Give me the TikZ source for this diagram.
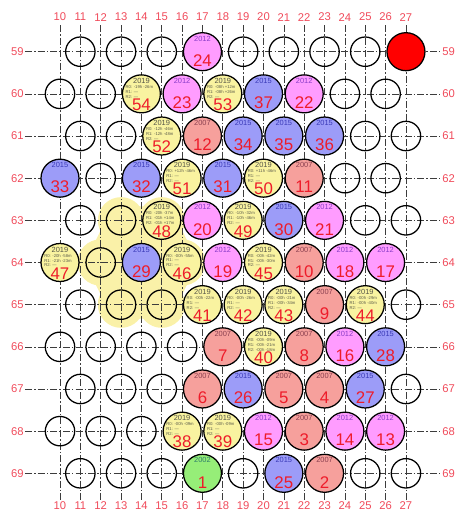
\documentclass[tikz,border=0pt]{standalone}
\usepackage{fontspec}
\setmainfont{Liberation Sans}
\usetikzlibrary{positioning}
\definecolor{gridGray}{HTML}{3C3C3C}
\definecolor{lblRed}  {HTML}{F04A5A}
\definecolor{numRed}  {HTML}{EE1C2A}
\definecolor{shiftInk}{HTML}{5A5A4A}
\definecolor{blobYel} {HTML}{FAF1A8}
\definecolor{sigRed}  {HTML}{FF0000}
\definecolor{f2012}{HTML}{FF9CFF}
\definecolor{f2015}{HTML}{9C9CF8}
\definecolor{f2007}{HTML}{F6A09C}
\definecolor{f2019}{HTML}{F9F3A0}
\definecolor{f2002}{HTML}{96EE78}
\definecolor{t2012}{HTML}{8A3CC8}
\definecolor{t2015}{HTML}{3A3AB8}
\definecolor{t2007}{HTML}{8B4050}
\definecolor{t2019}{HTML}{555548}
\definecolor{t2002}{HTML}{2E7D6B}

\begin{document}
\begin{tikzpicture}[x=0.50875cm,y=-1.054cm,
      grid/.style={draw=gridGray,line width=0.45pt,
                   dash pattern=on 5pt off 1.5pt on 1pt off 1.5pt},
      lbl/.style={text=lblRed,font=\fontsize{8}{9}\selectfont,inner sep=0pt},
      freehole/.style={circle,draw=black,line width=0.9pt,
                       minimum size=0.735cm,inner sep=0pt},
      hole/.style={circle,draw=black,line width=0.9pt,
                   minimum size=0.95cm,inner sep=0pt},
      yr/.style={font=\fontsize{5.3}{5.3}\selectfont,inner sep=0pt},
      num/.style={text=numRed,font=\fontsize{12}{12}\selectfont,inner sep=0pt},
      shiftln/.style={text=shiftInk,font=\fontsize{3}{3.4}\selectfont,
                      inner sep=0pt,anchor=west}]

    \useasboundingbox (-2.948,-1.226) rectangle (19.459,10.894);

    % shaded group of positions behind the lattice
    \fill[blobYel,draw=blobYel,line width=0.7cm,line join=round]
      (3,4) -- (5,4) -- (6,5) -- (5,6) -- (3,6) -- (2,5) -- cycle;
    \foreach \c/\r in {3/4,5/4,2/5,4/5,6/5,3/6,5/6}
      \fill[blobYel] (\c,\r) circle (0.58cm);

    % dash-dot lattice lines and their numbers
    \foreach \c [evaluate=\c as \cn using int(\c+10)] in {0,...,17} {
      \draw[grid] (\c,-0.63) -- (\c,10.63);
      \node[lbl] (top\cn) at (\c,-0.82) {\cn};
      \node[lbl] (bot\cn) at (\c,10.76) {\cn};
    }
    \foreach \r [evaluate=\r as \rn using int(\r+59)] in {0,...,10} {
      \draw[grid] (-1.72,\r) -- (18.67,\r);
      \node[lbl] (left\rn)  at (-2.1,\r) {\rn};
      \node[lbl] (right\rn) at (19.1,\r) {\rn};
    }

    % empty positions
    \foreach \c/\r in {11/59,13/59,15/59,19/59,21/59,23/59,25/59,
                       10/60,12/60,24/60,26/60,
                       11/61,13/61,25/61,27/61,
                       12/62,24/62,26/62,
                       11/63,13/63,25/63,27/63,
                       12/64,
                       11/65,13/65,15/65,27/65,
                       10/66,12/66,14/66,16/66,
                       11/67,13/67,15/67,27/67,
                       10/68,12/68,14/68,
                       11/69,13/69,15/69,19/69,25/69,27/69}
      \node[freehole] (free-\c-\r) at (\c-10,\r-59) {};

    \node[hole,fill=sigRed] (sig) at (17,0) {};

    % filled positions: number / column / row / year
    \foreach \n/\c/\r/\y in {24/17/59/2012,23/16/60/2012,22/22/60/2012,
                             20/17/63/2012,21/23/63/2012,19/18/64/2012,
                             18/24/64/2012,17/26/64/2012,16/24/66/2012,
                             15/20/68/2012,14/24/68/2012,13/26/68/2012,
                             37/20/60/2015,34/19/61/2015,35/21/61/2015,
                             36/23/61/2015,33/10/62/2015,32/14/62/2015,
                             31/18/62/2015,30/21/63/2015,29/14/64/2015,
                             28/26/66/2015,26/19/67/2015,27/25/67/2015,
                             25/21/69/2015,
                             12/17/61/2007,11/22/62/2007,10/22/64/2007,
                             9/23/65/2007,7/18/66/2007,8/22/66/2007,
                             6/17/67/2007,5/21/67/2007,4/23/67/2007,
                             3/22/68/2007,2/23/69/2007,
                             1/17/69/2002} {
      \node[hole,fill=f\y] (h\n) at (\c-10,\r-59) {};
      \node[yr,text=t\y] (y\n) at ([yshift=3.25mm]h\n.center) {\y};
      \node[num] (n\n) at ([yshift=-2.25mm]h\n.center) {\n};
    }

    % 2019 positions carry three offset lines
    \foreach \n/\c/\r/\a/\b/\d in {
        54/14/60/-19h -26m/---/---,
        53/18/60/-08h +12m/-08h +26m/---,
        52/15/61/-12h -46m/-12h -48m/---,
        51/16/62/+12h -46m/---/---,
        50/20/62/+11h -46m/---/---,
        48/15/63/-20h -37m/-01h +14m/-01h +17m,
        49/19/63/-10h -32m/-10h -46m/---,
        47/10/64/-20h -58m/-21h -23m/---,
        46/16/64/-00h -55m/---/---,
        45/20/64/-00h -42m/-00h -30m/---,
        41/17/65/-00h -22m/---/---,
        42/19/65/-00h -26m/---/---,
        43/21/65/-00h -21m/-00h -34m/---,
        44/25/65/-00h -29m/-00h -40m/---,
        40/20/66/-00h -09m/-00h -21m/-00h -18m,
        38/16/68/-00h -09m/---/---,
        39/18/68/-00h -09m/---/---} {
      \node[hole,fill=f2019] (h\n) at (\c-10,\r-59) {};
      \node[yr,text=t2019] (y\n) at ([yshift=3.25mm]h\n.center) {2019};
      \node[shiftln] at ([xshift=-4mm,yshift=1.75mm]h\n.center) {R0: \a};
      \node[shiftln] at ([xshift=-4mm,yshift=0.5mm]h\n.center)  {R1: \b};
      \node[shiftln] at ([xshift=-4mm,yshift=-0.75mm]h\n.center) {R2: \d};
      \node[num] (n\n) at ([yshift=-2.75mm]h\n.center) {\n};
    }
  \end{tikzpicture}
\end{document}
